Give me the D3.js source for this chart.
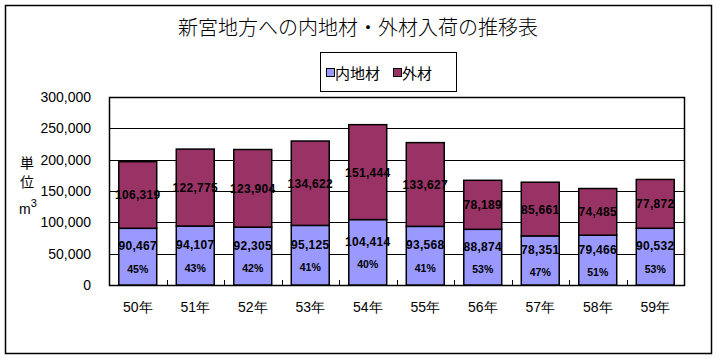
<!DOCTYPE html>
<html><head><meta charset="utf-8">
<script src="https://cdn.jsdelivr.net/npm/d3@7"></script>
<style>
html,body{margin:0;padding:0;background:#fff;}
svg{display:block;}
</style></head>
<body>
<svg id="chart" width="719" height="359"></svg>
<script>
const categories = ["50年","51年","52年","53年","54年","55年","56年","57年","58年","59年"];
const domestic = [90467,94107,92305,95125,104414,93568,88874,78351,79466,90532];
const imported = [106319,122775,123904,134622,151444,133627,78189,85661,74485,77872];
const pctLabels = ["45%","43%","42%","41%","40%","41%","53%","47%","51%","53%"];
const yTicks = [0,50000,100000,150000,200000,250000,300000];
const seriesNames = ["内地材","外材"];
const colors = ["#9999FF","#993366"];

const svg = d3.select("#chart");
const M = {left:109, right:684, top:97, bottom:285};
const FONT = "'Liberation Sans', Arial, sans-serif";
const JFONT = "'Noto Sans CJK JP', sans-serif";

// outer border
svg.append("rect").attr("x",5.5).attr("y",5.5).attr("width",706).attr("height",348)
  .attr("fill","#fff").attr("stroke","#000").attr("stroke-width",1.5);

// title
svg.append("text").attr("x",358).attr("y",35).attr("text-anchor","middle")
  .attr("font-family",JFONT).attr("font-size",20).attr("font-weight",300).attr("fill","#000")
  .text("新宮地方への内地材・外材入荷の推移表");

// legend
const lg = svg.append("g");
lg.append("rect").attr("x",320.5).attr("y",52.5).attr("width",136).attr("height",39)
  .attr("fill","#fff").attr("stroke","#000").attr("stroke-width",1);
const legendItems = [{x:326, tx:335},{x:393, tx:402}];
seriesNames.forEach((n,i)=>{
  lg.append("rect").attr("x",legendItems[i].x+0.5).attr("y",68.5).attr("width",8).attr("height",8)
    .attr("fill",colors[i]).attr("stroke","#000").attr("stroke-width",1);
  lg.append("text").attr("x",legendItems[i].tx).attr("y",78.5)
    .attr("font-family",JFONT).attr("font-size",15).attr("fill","#000").text(n);
});

const x = d3.scaleBand().domain(categories).range([M.left,M.right]).paddingInner(0.34).paddingOuter(0.17);
const xb = d3.scaleBand().domain(categories).range([M.left,M.right]);
const y = d3.scaleLinear().domain([0,300000]).range([M.bottom,M.top]);

// gridlines
svg.append("g").selectAll("line").data(yTicks.slice(1,-1)).join("line")
  .attr("x1",M.left).attr("x2",M.right)
  .attr("y1",d=>Math.round(y(d))+0.5).attr("y2",d=>Math.round(y(d))+0.5)
  .attr("stroke","#000").attr("stroke-width",1);

// plot border
svg.append("rect").attr("x",M.left+0.5).attr("y",M.top+0.5)
  .attr("width",M.right-M.left).attr("height",M.bottom-M.top)
  .attr("fill","none").attr("stroke","#000").attr("stroke-width",1.5);

// y axis labels
const yAxis = d3.axisLeft(y).tickValues(yTicks).tickSize(0).tickPadding(18)
  .tickFormat(d3.format(","));
const yg = svg.append("g").attr("transform",`translate(${M.left},0)`).call(yAxis);
yg.select(".domain").remove();
yg.selectAll("text").attr("font-family",FONT).attr("font-size",14).attr("fill","#000");

// y title
svg.append("text").attr("x",27).attr("y",168).attr("text-anchor","middle")
  .attr("font-family",JFONT).attr("font-size",14).text("単");
svg.append("text").attr("x",27).attr("y",187).attr("text-anchor","middle")
  .attr("font-family",JFONT).attr("font-size",14).text("位");
const mt = svg.append("text").attr("x",19).attr("y",214).attr("font-family",FONT).attr("font-size",14);
mt.append("tspan").text("m");
mt.append("tspan").attr("dy",-7).attr("font-size",11).text("3");

// bars
const stack = categories.map((c,i)=>({c, d:domestic[i], o:imported[i], p:pctLabels[i]}));
const bars = svg.append("g");
bars.selectAll("rect.dom").data(stack).join("rect").attr("class","dom")
  .attr("x",d=>x(d.c)).attr("width",x.bandwidth())
  .attr("y",d=>y(d.d)).attr("height",d=>y(0)-y(d.d))
  .attr("fill",colors[0]).attr("stroke","#000").attr("stroke-width",1.5);
bars.selectAll("rect.imp").data(stack).join("rect").attr("class","imp")
  .attr("x",d=>x(d.c)).attr("width",x.bandwidth())
  .attr("y",d=>y(d.d+d.o)).attr("height",d=>y(d.d)-y(d.d+d.o))
  .attr("fill",colors[1]).attr("stroke","#000").attr("stroke-width",1.5);

// x ticks (inward)
svg.append("g").selectAll("line").data(categories.slice(1)).join("line")
  .attr("x1",d=>Math.round(xb(d))+0.5).attr("x2",d=>Math.round(xb(d))+0.5)
  .attr("y1",M.bottom).attr("y2",M.bottom-5).attr("stroke","#000").attr("stroke-width",1);

// x labels
svg.append("g").selectAll("text").data(categories).join("text")
  .attr("x",d=>x(d)+x.bandwidth()/2).attr("y",312).attr("text-anchor","middle")
  .attr("font-family",FONT).attr("font-size",14).attr("fill","#000")
  .text(d=>d);

// data labels
const fmt = d3.format(",");
const lbl = svg.append("g").attr("font-family",FONT).attr("font-weight","bold").attr("fill","#000").attr("text-anchor","middle");
lbl.selectAll("text.o").data(stack).join("text").attr("class","o")
  .attr("x",d=>x(d.c)+x.bandwidth()/2).attr("y",d=>(y(d.d)+y(d.d+d.o))/2+4.5)
  .attr("font-size",12).attr("letter-spacing",0.3).text(d=>fmt(d.o));
lbl.selectAll("text.d").data(stack).join("text").attr("class","d")
  .attr("x",d=>x(d.c)+x.bandwidth()/2).attr("y",d=>(y(0)+y(d.d))/2-11+4.5)
  .attr("font-size",12).attr("letter-spacing",0.3).text(d=>fmt(d.d));
lbl.selectAll("text.p").data(stack).join("text").attr("class","p")
  .attr("x",d=>x(d.c)+x.bandwidth()/2).attr("y",d=>(y(0)+y(d.d))/2+12+4)
  .attr("font-size",10.5).text(d=>d.p);
</script>
</body></html>
